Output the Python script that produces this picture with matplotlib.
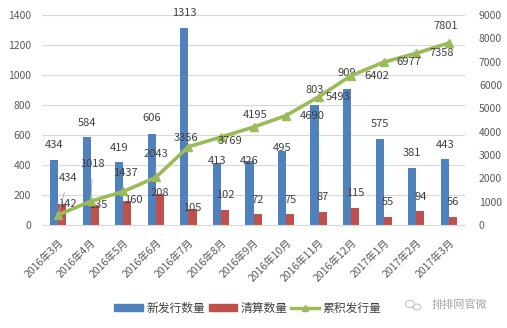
import numpy as np
import matplotlib.pyplot as plt
from matplotlib.lines import Line2D
from matplotlib.patches import Patch, Ellipse

plt.rcParams['font.family'] = ['Noto Sans CJK SC', 'DejaVu Sans']

months = ['2016年3月', '2016年4月', '2016年5月', '2016年6月', '2016年7月', '2016年8月',
          '2016年9月', '2016年10月', '2016年11月', '2016年12月', '2017年1月',
          '2017年2月', '2017年3月']
new_issued = [434, 584, 419, 606, 1313, 413, 426, 495, 803, 909, 575, 381, 443]
liquidated = [142, 135, 160, 208, 105, 102, 72, 75, 87, 115, 55, 94, 56]
cumulative = [434, 1018, 1437, 2043, 3356, 3769, 4195, 4690, 5493, 6402, 6977, 7358, 7801]

# label offsets in pixels (dx, dy)
blue_off = [15, 14, 14, 16, 15, 2, 0, 3, 15, 16, 15, 15, 14]
red_off = [(5, 0), (3, 0), (6, 1), (0, 1), (0, 1), (0, 15), (0, 14), (0, 14),
           (0, 15), (0, 15), (0, 15), (0, 14), (0, 15)]
cum_off = [(10, 37), (2, 37), (2, 18), (0, 23), (-2, 9), (9, -4), (2, 12),
           (26, 0), (20, 0), (26, 0), (25, 0), (26, 0), (-3, 17)]
leader = [0, 1, 2, 3]

blue = '#4F81BD'
red = '#C0504D'
green = '#9BBB59'
txt = '#404040'
tick_c = '#595959'

fig = plt.figure(figsize=(5.07, 3.28), dpi=100)
ax = fig.add_axes([42 / 507, 1 - 225 / 328, 423 / 507, 210 / 328])
ax2 = ax.twinx()

x = np.arange(len(months))
w = 0.25
ax.bar(x - w / 2, new_issued, w, color=blue, zorder=2)
ax.bar(x + w / 2, liquidated, w, color=red, zorder=2)

ax.set_xlim(-0.5, len(months) - 0.5)
ax.set_ylim(0, 1400)
ax.set_yticks(range(0, 1401, 200))
ax.grid(axis='y', color='#D9D9D9', lw=0.8, zorder=0)
ax.set_axisbelow(True)
for s in ['top', 'right', 'left']:
    ax.spines[s].set_visible(False)
ax.spines['bottom'].set_color('#D9D9D9')
ax.tick_params(axis='y', length=0, labelsize=7.5, labelcolor=tick_c, pad=8)
ax.tick_params(axis='x', length=0, labelsize=7.5, labelcolor=tick_c, pad=9)
ax.set_xticks(x)
ax.set_xticklabels(months, rotation=45, ha='right', rotation_mode='anchor')

for i, v in enumerate(new_issued):
    ax.annotate(str(v), (x[i] - w / 2, v), xytext=(0, blue_off[i]), textcoords='offset pixels',
                ha='center', va='center', fontsize=8, color=txt)
for i, v in enumerate(liquidated):
    ax.annotate(str(v), (x[i] + w / 2, v), xytext=red_off[i], textcoords='offset pixels',
                ha='center', va='center', fontsize=8, color=txt)

ax2.plot(x, cumulative, color=green, lw=2.6, marker='^', ms=6, zorder=3)
ax2.set_ylim(0, 9000)
ax2.set_yticks(range(0, 9001, 1000))
for s in ['top', 'right', 'left', 'bottom']:
    ax2.spines[s].set_visible(False)
ax2.tick_params(axis='y', length=0, labelsize=7.5, labelcolor=tick_c, pad=10)

for i, v in enumerate(cumulative):
    ap = dict(arrowstyle='-', color='#A6A6A6', lw=0.6, shrinkA=5, shrinkB=2) if i in leader else None
    ax2.annotate(str(v), (x[i], v), xytext=cum_off[i], textcoords='offset pixels',
                 ha='center', va='center', fontsize=8, color=txt, arrowprops=ap)

handles = [Patch(color=blue), Patch(color=red),
           Line2D([], [], color=green, lw=2.5, marker='^', ms=5)]
fig.legend(handles, ['新发行数量', '清算数量', '累积发行量'], loc='center',
           bbox_to_anchor=(248 / 507, 1 - 308 / 328), ncol=3, frameon=False,
           fontsize=8.5, handlelength=2.4, handleheight=0.6, columnspacing=0.3,
           handletextpad=0.3, labelcolor=txt)

# watermark
fig.text(432 / 507, 1 - 305 / 328, '排排网官微', fontsize=8, color='#A6A6A6',
         va='center', ha='left')
fig.patches.append(Ellipse((410 / 507, 1 - 304 / 328), 9 / 507, 7 / 328, fill=False,
                           ec='#BFBFBF', lw=0.7, transform=fig.transFigure))
fig.patches.append(Ellipse((417 / 507, 1 - 307 / 328), 8 / 507, 6 / 328, fill=False,
                           ec='#BFBFBF', lw=0.7, transform=fig.transFigure))

fig.savefig('out.png', dpi=100)
